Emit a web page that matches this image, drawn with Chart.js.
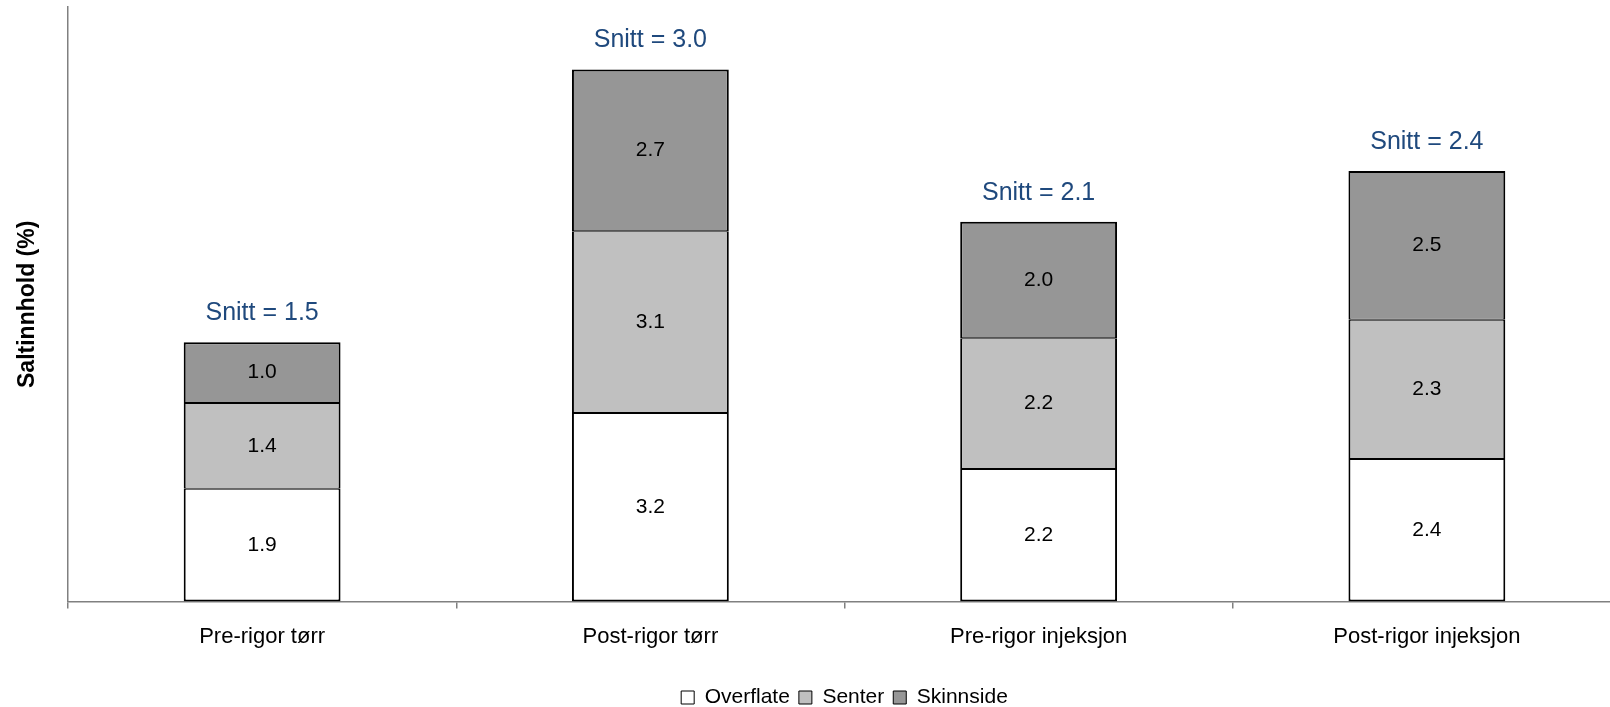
<!DOCTYPE html>
<html>
<head>
<meta charset="utf-8">
<script src="https://cdn.jsdelivr.net/npm/chart.js@4/dist/chart.umd.min.js"></script>
<style>
html, body { margin: 0; padding: 0; overflow: hidden; background: #fff; }
#wrap { width: 1624px; height: 707px; }
</style>
</head>
<body>
<div id="wrap"><canvas id="c" width="1624" height="707"></canvas></div>
<script>
const categories = ["Pre-rigor tørr", "Post-rigor tørr", "Pre-rigor injeksjon", "Post-rigor injeksjon"];
const overflate = [1.9, 3.17, 2.23, 2.4];
const senter = [1.44, 3.06, 2.2, 2.34];
const skinnside = [1.02, 2.72, 1.96, 2.5];
const snitt = [1.5, 3.0, 2.1, 2.4];
const seriesNames = ["Overflate", "Senter", "Skinnside"];

const FONT = "'Liberation Sans', Arial, sans-serif";

const labelPlugin = {
  id: 'labels',
  afterDatasetsDraw(chart) {
    const ctx = chart.ctx;
    ctx.save();
    ctx.textAlign = 'center';
    ctx.textBaseline = 'middle';
    chart.data.datasets.forEach((ds, di) => {
      const meta = chart.getDatasetMeta(di);
      meta.data.forEach((bar, i) => {
        ctx.fillStyle = '#000';
        ctx.font = '21px ' + FONT;
        ctx.fillText(ds.data[i].toFixed(1), bar.x, (bar.y + bar.base) / 2);
      });
    });
    const top = chart.getDatasetMeta(chart.data.datasets.length - 1);
    top.data.forEach((bar, i) => {
      ctx.fillStyle = '#1F497D';
      ctx.font = '25px ' + FONT;
      ctx.fillText('Snitt = ' + snitt[i].toFixed(1), bar.x, bar.y - 29);
    });
    ctx.restore();
  }
};

new Chart(document.getElementById('c'), {
  type: 'bar',
  data: {
    labels: categories,
    datasets: [
      { label: seriesNames[0], data: overflate, backgroundColor: '#FFFFFF', borderColor: '#000000',
        borderWidth: {top: 1, bottom: 2, left: 2, right: 2}, borderSkipped: false },
      { label: seriesNames[1], data: senter, backgroundColor: '#C0C0C0', borderColor: '#000000',
        borderWidth: {top: 1, bottom: 1, left: 2, right: 2}, borderSkipped: false },
      { label: seriesNames[2], data: skinnside, backgroundColor: '#969696', borderColor: '#000000',
        borderWidth: {top: 2, bottom: 1, left: 2, right: 2}, borderSkipped: false }
    ]
  },
  options: {
    responsive: false,
    animation: false,
    events: [],
    layout: { padding: { top: 7, right: 3, left: 0, bottom: -11 } },
    datasets: { bar: { categoryPercentage: 1.0, barPercentage: 0.404 } },
    scales: {
      x: {
        stacked: true,
        offset: true,
        grid: { display: true, drawOnChartArea: false, drawTicks: true, tickLength: 7, color: '#808080', lineWidth: 1.5, offset: true },
        border: { display: true, color: '#808080', width: 1.5 },
        ticks: { color: '#000', font: { family: FONT, size: 22 }, padding: 15, maxRotation: 0 },
        afterFit(scale) { scale.height = scale.height + 13; }
      },
      y: {
        stacked: true,
        min: 0, max: 10,
        grid: { display: false },
        border: { display: true, color: '#808080', width: 1.5 },
        ticks: { display: false },
        title: { display: true, text: 'Saltinnhold (%)', color: '#000', font: { family: FONT, size: 23, weight: 'bold' }, padding: { top: 14, bottom: 0 } },
        afterFit(scale) { scale.width = 68; }
      }
    },
    plugins: {
      legend: {
        position: 'bottom',
        fullSize: false,
        labels: {
          color: '#000',
          font: { family: FONT, size: 21 },
          boxWidth: 13, boxHeight: 13, padding: 9,
          generateLabels(chart) {
            return Chart.defaults.plugins.legend.labels.generateLabels(chart).map(l => Object.assign(l, { lineWidth: 1, strokeStyle: '#000' }));
          }
        }
      },
      tooltip: { enabled: false }
    }
  },
  plugins: [labelPlugin]
});
</script>
</body>
</html>
